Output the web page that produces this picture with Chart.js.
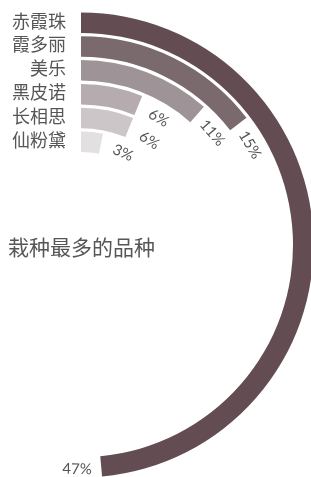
<!DOCTYPE html>
<html>
<head>
<meta charset="utf-8">
<script src="https://cdn.jsdelivr.net/npm/chart.js@4/dist/chart.umd.min.js"></script>
<style>
  html, body { margin: 0; padding: 0; background: #fff; }
</style>
</head>
<body>
<canvas id="wineChart" width="311" height="477"></canvas>
<script>
// Datos del gráfico
const varieties = ['赤霞珠', '霞多丽', '美乐', '黑皮诺', '长相思', '仙粉黛'];
const shares = [47, 14.1, 11.2, 6, 6, 3];          // longitud de cada arco
const shareLabels = ['47%', '15%', '11%', '6%', '6%', '3%'];
const ringColors = ['#634d53', '#7a6a6e', '#9e9397', '#b6acb0', '#cdc6c9', '#e3e0e1'];
const scaleMax = 96.8;                              // valor que cubre la vuelta completa
const title = '栽种最多的品种';

const RING = 20.5;   // grosor de cada anillo
const GAP = 3.3;     // separación entre anillos
const textColor = '#565656';

// Construir los datasets: un anillo por variedad, con un espaciador transparente entre ellos
function buildDatasets() {
    const datasets = [];
    shares.forEach(function(v, i) {
        if (i > 0) {
            datasets.push({ data: [1], backgroundColor: ['rgba(0,0,0,0)'], borderWidth: 0, weight: GAP });
        }
        datasets.push({
            data: [v, scaleMax - v],
            backgroundColor: [ringColors[i], 'rgba(0,0,0,0)'],
            borderWidth: 0,
            weight: RING
        });
    });
    return datasets;
}

// Plugin para dibujar nombres, porcentajes y título
const ringLabels = {
    id: 'ringLabels',
    afterDatasetsDraw(chart) {
        const ctx = chart.ctx;
        let cy = 0;
        ctx.save();
        ctx.fillStyle = textColor;
        shares.forEach(function(v, i) {
            const arc = chart.getDatasetMeta(i * 2).data[0];
            const p = arc.getProps(['x', 'y', 'endAngle', 'innerRadius', 'outerRadius'], true);
            const r = (p.innerRadius + p.outerRadius) / 2;
            cy = p.y;

            // Nombre de la variedad al inicio del arco
            ctx.font = '18px "Noto Sans CJK SC"';
            ctx.textAlign = 'right';
            ctx.textBaseline = 'middle';
            ctx.fillText(varieties[i], p.x - 15, p.y - r - 2);

            // Porcentaje justo después del final del arco
            const a = p.endAngle + 24 / r;
            let rot = a + Math.PI / 2;
            if (rot > Math.PI / 2 && rot < 3 * Math.PI / 2) rot -= Math.PI;
            ctx.save();
            ctx.translate(p.x + r * Math.cos(a), p.y + r * Math.sin(a));
            ctx.rotate(rot);
            ctx.font = '15px Lato';
            ctx.textAlign = 'center';
            ctx.fillText(shareLabels[i], 0, 2);
            ctx.restore();
        });

        ctx.font = '21px "Noto Sans CJK SC"';
        ctx.textAlign = 'left';
        ctx.textBaseline = 'middle';
        ctx.fillText(title, 8, cy + 2);
        ctx.restore();
    }
};

const chart = new Chart(document.getElementById('wineChart'), {
    type: 'doughnut',
    data: { labels: ['share', 'rest'], datasets: buildDatasets() },
    options: {
        responsive: false,
        animation: false,
        events: [],
        radius: 232.5,
        cutout: '40%',
        rotation: 0,
        circumference: 360,
        clip: false,
        layout: { padding: { left: 0, right: 149, top: 13, bottom: 0 } },
        plugins: {
            legend: { display: false },
            tooltip: { enabled: false }
        }
    },
    plugins: [ringLabels]
});
</script>
</body>
</html>
